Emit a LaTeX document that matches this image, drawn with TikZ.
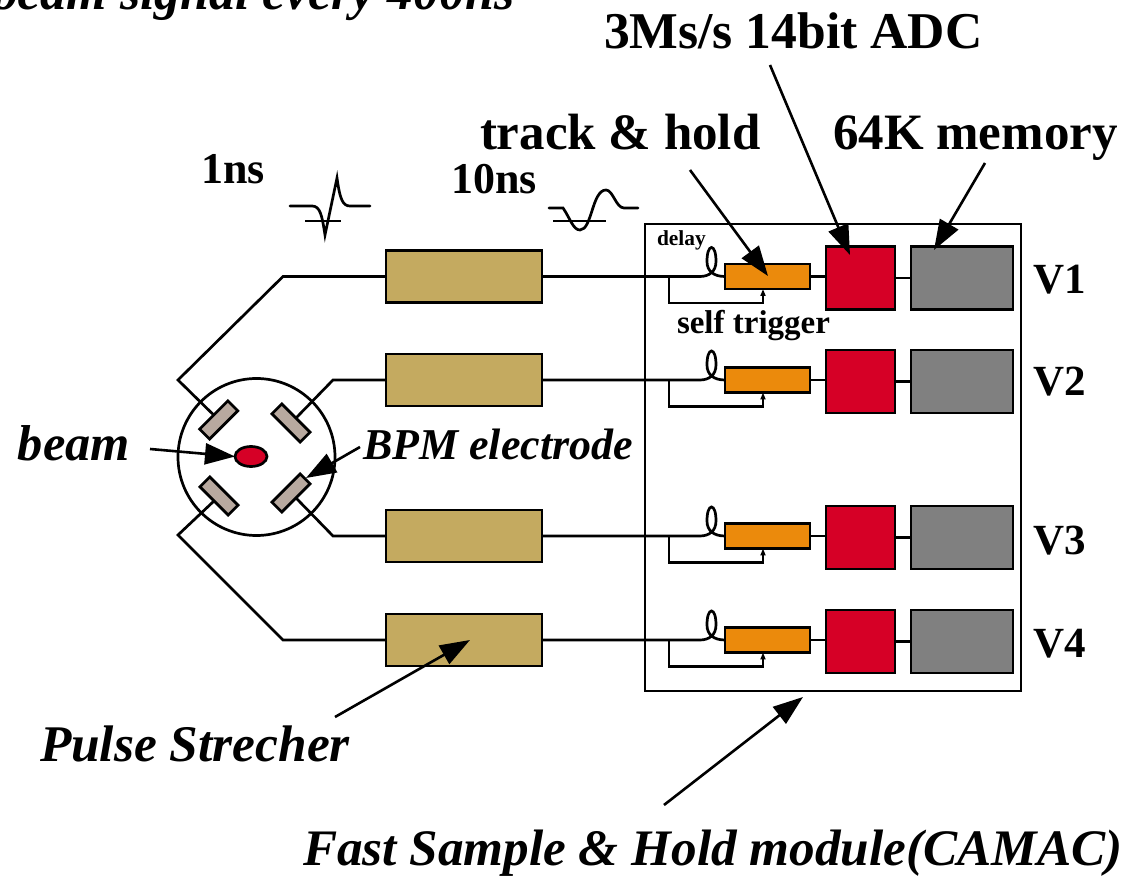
\documentclass[tikz,border=0pt]{standalone}
\usepackage{fontspec}
\setmainfont{Liberation Serif}
\usetikzlibrary{arrows.meta,shapes.geometric}
\definecolor{tanbox}{HTML}{C4AA60}
\definecolor{orangebox}{HTML}{EB8A0C}
\definecolor{redbox}{HTML}{D60026}
\definecolor{graybox}{HTML}{808080}
\definecolor{electrode}{HTML}{B8A99F}
\newcommand{\fs}[1]{\fontsize{#1}{#1}\selectfont\bfseries}
\tikzset{
  x=0.5pt,y=-0.5pt,
  wire/.style={draw=black,line width=1.35pt,line join=miter},
  boxbase/.style={draw=black,line width=1.35pt,inner sep=0pt,outer sep=0pt},
  stretcher/.style={boxbase,fill=tanbox,minimum width=78pt,minimum height=26pt},
  tandh/.style={boxbase,fill=orangebox,minimum width=42.5pt,minimum height=12.5pt},
  adc/.style={boxbase,fill=redbox,minimum width=34.5pt,minimum height=31.5pt},
  memory/.style={boxbase,fill=graybox,minimum width=51pt,minimum height=31.5pt},
  elec/.style={boxbase,fill=electrode,minimum width=20pt,minimum height=7pt},
  lbl/.style={anchor=base west,inner sep=0pt,outer sep=0pt},
  callout/.style={draw=black,line width=1.3pt,-{Triangle[length=15pt,width=10.5pt]}},
  trig/.style={draw=black,line width=1.25pt,-{Triangle[length=3.5pt,width=2.5pt]}}
}
\begin{document}
\begin{tikzpicture}
\useasboundingbox (0,0) rectangle (1131,876);
\clip (0,0) rectangle (1131,876);
% module
\node[boxbase,fill=white,minimum width=188pt,minimum height=233.5pt] (module) at (833,457.5) {};
% rows
\foreach \n/\y in {1/276.5,2/380,3/536,4/640}{
  \node[stretcher] (s\n) at (464,\y) {};
  \node[tandh] (t\n) at (767.5,\y) {};
  \node[adc] (a\n) at (860.5,{\y+1.5}) {};
  \node[memory] (m\n) at (962,{\y+1.5}) {};
  \coordinate (tap\n) at (669,\y);
  \coordinate (ls\n) at (700,\y);
  \coordinate (corner\n) at (763,{\y+26.5});
  \coordinate (tb\n) at (763,{\y+12.5});
  \draw[wire] (s\n.east) -- (tap\n) -- (ls\n)
     .. controls (709,\y) and (716,{\y-5}) .. (716,{\y-15})
     .. controls (716,{\y-24}) and (714,{\y-29}) .. (711.5,{\y-29})
     .. controls (709,{\y-29}) and (707,{\y-24}) .. (707,{\y-15})
     .. controls (707,{\y-5}) and (714,\y) .. (t\n.west);
  \draw[trig] (tap\n) |- (corner\n) -- (tb\n);
  \draw[wire] (t\n.east) -- (t\n.east -| a\n.west);
  \draw[wire] (a\n.east) -- (m\n.west);
}
% BPM
\node[boxbase,fill=white,circle,minimum size=78.5pt] (bpm) at (256.5,457) {};
\node[boxbase,fill=redbox,ellipse,minimum width=16pt,minimum height=10pt] (beamspot) at (251,456.5) {};
\node[elec,rotate=45] (eUL) at (218.7,420) {};
\node[elec,rotate=-45] (eUR) at (291,423) {};
\node[elec,rotate=-45] (eLL) at (219,496) {};
\node[elec,rotate=45] (eLR) at (291,493) {};
\coordinate (b1) at (178,380);
\coordinate (c1) at (283,276.5);
\coordinate (b2) at (333,380);
\coordinate (b3) at (333,536);
\coordinate (b4) at (178,535);
\coordinate (c4) at (283,640);
\draw[wire] (eUL.north) -- (b1) -- (c1) -- (s1.west);
\draw[wire] (eUR.north) -- (b2) -- (s2.west);
\draw[wire] (eLR.south) -- (b3) -- (s3.west);
\draw[wire] (eLL.south) -- (b4) -- (c4) -- (s4.west);
% texts
\node[lbl] (ttop) at (-8,10) {\fs{25.9}\itshape beam signal every 400ns};
\node[lbl] (tadc) at (604,49) {\fs{25.8}3Ms/s 14bit ADC};
\node[lbl] (ttrack) at (480,150) {\fs{25.5}track \& hold};
\node[lbl] (tmem) at (833,150) {\fs{25.5}64K memory};
\node[lbl] (t1ns) at (201,184) {\fs{22}1ns};
\node[lbl] (t10ns) at (451,194) {\fs{22}10ns};
\node[lbl] (tdelay) at (657,246) {\fs{10.7}delay};
\node[lbl] (tself) at (677,334) {\fs{16.5}self trigger};
\node[lbl] (v1) at (1033,294) {\fs{21.5}V1};
\node[lbl] (v2) at (1033,396) {\fs{21.5}V2};
\node[lbl] (v3) at (1033,555) {\fs{21.5}V3};
\node[lbl] (v4) at (1033,658) {\fs{21.5}V4};
\node[lbl] (tbeam) at (18,461) {\fs{25.2}\itshape beam};
\node[lbl] (tbpm) at (363,460) {\fs{22}\itshape BPM electrode};
\node[lbl] (tpulse) at (40,762) {\fs{25.7}\itshape Pulse Strecher};
\node[lbl] (tfast) at (303,866) {\fs{25.6}\itshape Fast Sample \& Hold module(CAMAC)};
% callouts
\coordinate (f1) at (150,449);
\coordinate (f2) at (360,447);
\coordinate (f3) at (690,170);
\coordinate (f4) at (770,65);
\coordinate (f5) at (985,163);
\coordinate (f6) at (335,717);
\coordinate (f7) at (664,805);
\coordinate (g3) at (768,276);
\coordinate (g4) at (850,255);
\coordinate (g5) at (934,250);
\coordinate (g2) at (306,478);
\coordinate (g6) at (470,640);
\coordinate (g7) at (803,697);
\draw[callout] (f1) -- (beamspot.west);
\draw[callout] (f2) -- (g2);
\draw[callout] (f3) -- (g3);
\draw[callout] (f4) -- (g4);
\draw[callout] (f5) -- (g5);
\draw[callout] (f6) -- (g6);
\draw[callout] (f7) -- (g7);
% waveforms
\coordinate (w1a) at (290,206);
\coordinate (w1b) at (370,206);
\coordinate (w1c) at (305,221);
\coordinate (w1d) at (341,221);
\draw[wire,line cap=round] (w1a) -- (312,206) .. controls (320,206) and (322,215) .. (325,235) -- (337,178)
   .. controls (340,200) and (343,206) .. (350,206) -- (w1b);
\draw[wire] (w1c) -- (w1d);
\coordinate (w2a) at (549,208);
\coordinate (w2b) at (638,208);
\coordinate (w2c) at (553,221);
\coordinate (w2d) at (606,221);
\draw[wire,line cap=round] (w2a) -- (563,208) .. controls (570,218) and (573,230) .. (580,230)
   .. controls (592,230) and (592,190) .. (606,190) .. controls (613,190) and (616,208) .. (624,208) -- (w2b);
\draw[wire] (w2c) -- (w2d);
\end{tikzpicture}
\end{document}
